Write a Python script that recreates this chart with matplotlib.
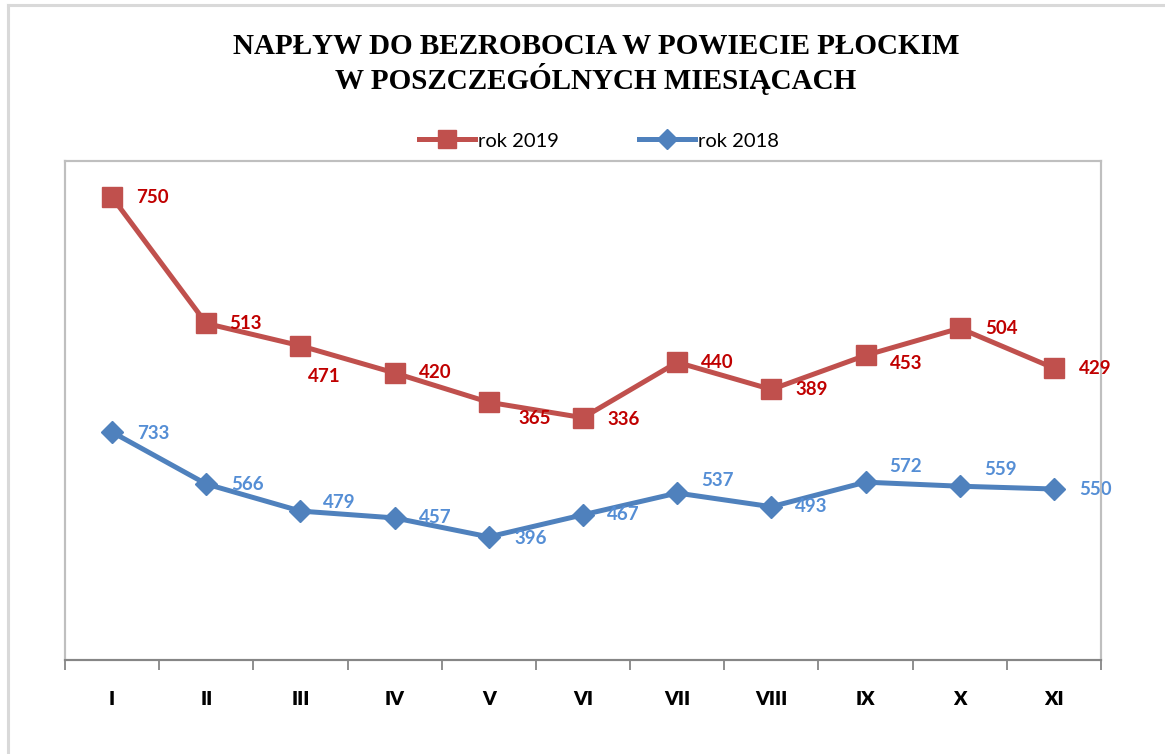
import matplotlib
matplotlib.use("Agg")
import matplotlib.pyplot as plt
from matplotlib.lines import Line2D

months = ["I", "II", "III", "IV", "V", "VI", "VII", "VIII", "IX", "X", "XI"]
rok_2019 = [750, 513, 471, 420, 365, 336, 440, 389, 453, 504, 429]
rok_2018 = [733, 566, 479, 457, 396, 467, 537, 493, 572, 559, 550]

# label offsets in points (styling)
off_2019 = [(29, 0), (28, 0), (17, -22), (29, 0), (33, -12), (29, -1), (29, 0), (29, 0), (29, -6), (30, 0), (30, 0)]
off_2018 = [(30, -1), (30, 0), (28, 6), (29, 0), (30, -1), (29, 0), (29, 9), (29, 0), (29, 11), (29, 12), (30, 0)]

RED_LINE = "#C0504D"
BLUE_LINE = "#4F81BD"
RED_TXT = "#C00000"
BLUE_TXT = "#558ED5"
LBL_FONT = ["Lato", "DejaVu Sans"]

W, H = 1165, 754
fig = plt.figure(figsize=(W / 100, H / 100), dpi=100)

# outer chart border (top and left visible)
fig.add_artist(Line2D([8 / W, 8 / W], [0, 1 - 5 / H], transform=fig.transFigure, color="#D9D9D9", lw=2.2))
fig.add_artist(Line2D([8 / W, 1], [1 - 5 / H, 1 - 5 / H], transform=fig.transFigure, color="#D9D9D9", lw=2.2))

left, right, top, bottom = 65, 1101, 161, 660
ax = fig.add_axes([left / W, 1 - bottom / H, (right - left) / W, (bottom - top) / H])
ax2 = ax.twinx()

x = list(range(len(months)))
ax.plot(x, rok_2018, color=BLUE_LINE, lw=3.6, marker="D", markersize=11, zorder=3)
ax2.plot(x, rok_2019, color=RED_LINE, lw=3.6, marker="s", markersize=14, zorder=3)

ax.set_ylim(0, 1605)
ax2.set_ylim(-119, 818)
ax.set_xlim(-0.5, len(months) - 0.5)

for xi, v, (dx, dy) in zip(x, rok_2018, off_2018):
    ax.annotate(str(v), (xi, v), xytext=(dx, dy), textcoords="offset points",
                ha="center", va="center", color=BLUE_TXT, fontsize=13.5,
                fontweight="bold", family=LBL_FONT, zorder=5)
for xi, v, (dx, dy) in zip(x, rok_2019, off_2019):
    ax2.annotate(str(v), (xi, v), xytext=(dx, dy), textcoords="offset points",
                 ha="center", va="center", color=RED_TXT, fontsize=13.5,
                 fontweight="bold", family=LBL_FONT, zorder=5)

for a in (ax, ax2):
    a.set_yticks([])
    for s in ("left", "right", "top"):
        a.spines[s].set_color("#BFBFBF")
        a.spines[s].set_linewidth(1.5)
    a.spines["bottom"].set_color("#868686")
    a.spines["bottom"].set_linewidth(1.5)

ax.set_xticks([i - 0.5 for i in range(len(months) + 1)], minor=False)
ax.set_xticklabels([])
ax.tick_params(axis="x", which="major", length=7, width=1.3, color="#868686", direction="out")
ax.set_xticks(x, minor=True)
ax.set_xticklabels(months, minor=True, fontweight="heavy", family=LBL_FONT, fontsize=14, color="black")
ax.tick_params(axis="x", which="minor", length=0, pad=22)

fig.text(596 / W, 1 - 64 / H, "NAPŁYW DO BEZROBOCIA W POWIECIE PŁOCKIM\nW POSZCZEGÓLNYCH MIESIĄCACH",
         ha="center", va="center", fontsize=21, fontweight="bold",
         family=["Liberation Serif", "DejaVu Serif"], linespacing=1.1)

handles = [Line2D([], [], color=RED_LINE, lw=3.6, marker="s", markersize=13),
           Line2D([], [], color=BLUE_LINE, lw=3.6, marker="D", markersize=10)]
leg = fig.legend(handles, ["rok 2019", "rok 2018"], loc="center", bbox_to_anchor=(599 / W, 1 - 141 / H),
                 ncol=2, frameon=False, handlelength=2.8, handletextpad=0.15, columnspacing=3.95,
                 prop={"family": LBL_FONT, "size": 14.5})

fig.savefig("out.png", dpi=100)
